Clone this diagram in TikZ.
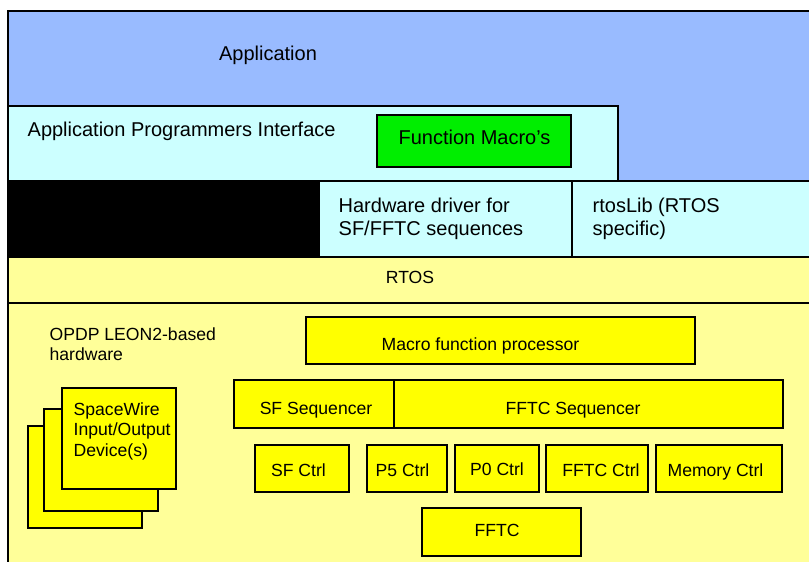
\documentclass[tikz,border=0pt]{standalone}
\usepackage{fontspec}
\setmainfont{Liberation Sans}
\definecolor{appblue}{RGB}{153,187,255}
\definecolor{apicyan}{RGB}{204,255,255}
\definecolor{hwyellow}{RGB}{255,255,153}
\definecolor{unityellow}{RGB}{255,255,0}
\definecolor{macgreen}{RGB}{0,238,0}

\begin{document}
\begin{tikzpicture}[
     x = 0.75pt,
     y = -0.75pt,
     line width = 1pt,
     every node/.style = {inner sep=0pt},
     big/.style = {font=\fontsize{15}{17.25}\selectfont},
     small/.style = {font=\fontsize{13.2}{15.3}\selectfont},
     unit/.style = {draw=black, fill=unityellow}
    ]
    \tikzstyle{layer}=[draw=black]

    \useasboundingbox (0,0) rectangle (809,561);
    \clip (0,0) rectangle (809,561);

    \draw[layer, fill=appblue] (8,11) rectangle (815,181);
    \draw[layer, fill=apicyan] (8,106) rectangle (618,181);
    \draw[layer, fill=macgreen] (377,115) rectangle (571,167);
    \draw[layer, fill=black] (8,181) rectangle (319,257);
    \draw[layer, fill=apicyan] (319,181) rectangle (572,257);
    \draw[layer, fill=apicyan] (572,181) rectangle (815,257);
    \draw[layer, fill=hwyellow] (8,257) rectangle (815,303);
    \draw[layer, fill=hwyellow] (8,303) rectangle (815,570);

    \draw[unit] (28,426) rectangle (142,528);
    \draw[unit] (44,409) rectangle (158,511);
    \draw[unit] (62,388) rectangle (176,489);
    \draw[unit] (306,317) rectangle (695,364);
    \draw[unit] (234,380) rectangle (394,428);
    \draw[unit] (394,380) rectangle (783,428);
    \draw[unit] (255,445) rectangle (349,492);
    \draw[unit] (367,445) rectangle (447,492);
    \draw[unit] (455,445) rectangle (539,492);
    \draw[unit] (546,445) rectangle (648,492);
    \draw[unit] (656,445) rectangle (782,492);
    \draw[unit] (422,508) rectangle (581,556);

    \node[big, anchor=base] (app) at (268,60) {Application};
    \node[big, anchor=base west] (api) at (27,136) {Application Programmers Interface};
    \node[big, anchor=base] (fmacro) at (474.5,144) {Function Macro's};
    \node[big, anchor=north west, align=left] (hwdrv) at (338,197) {Hardware driver for\\SF/FFTC sequences};
    \node[big, anchor=north west, align=left] (rtoslib) at (592,197) {rtosLib (RTOS\\specific)};
    \node[small, anchor=base] (rtos) at (410,283) {RTOS};
    \node[small, anchor=north west, align=left] (opdp) at (49,327) {OPDP LEON2-based\\hardware};
    \node[small, anchor=north west, align=left] (spw) at (73,402) {SpaceWire\\Input/Output\\Device(s)};
    \node[small, anchor=base west] (mfp) at (381,350) {Macro function processor};
    \node[small, anchor=base] (sfseq) at (316,414) {SF Sequencer};
    \node[small, anchor=base] (fftcseq) at (573,414) {FFTC Sequencer};
    \node[small, anchor=base] (sfctrl) at (298.5,476) {SF Ctrl};
    \node[small, anchor=base] (p5ctrl) at (402.5,476) {P5 Ctrl};
    \node[small, anchor=base] (p0ctrl) at (497,475) {P0 Ctrl};
    \node[small, anchor=base] (fftcctrl) at (601,476) {FFTC Ctrl};
    \node[small, anchor=base] (memctrl) at (715.5,476) {Memory Ctrl};
    \node[small, anchor=base] (fftc) at (497,536) {FFTC};
\end{tikzpicture}
\end{document}
